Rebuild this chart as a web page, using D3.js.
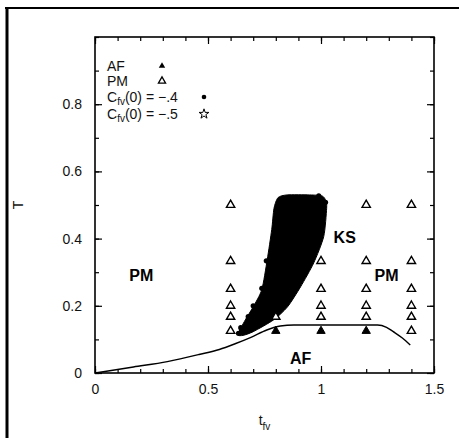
<!DOCTYPE html>
<html><head><meta charset="utf-8">
<script src="https://cdn.jsdelivr.net/npm/d3@7"></script>
<style>
html,body{margin:0;padding:0;background:#fff;}
svg{display:block;font-family:"Liberation Sans",Arial,Helvetica,sans-serif;}
</style></head>
<body>
<svg id="c" width="459" height="438"></svg>
<script>
// ---- data ----
const xTickMajor = [0, 0.5, 1, 1.5];
const xTickLabels = ["0", "0.5", "1", "1.5"];
const yTickMajor = [0, 0.2, 0.4, 0.6, 0.8];
const yTickLabels = ["0", "0.2", "0.4", "0.6", "0.8"];
const xTickMinor = d3.range(0, 1.501, 0.1);
const yTickMinor = d3.range(0, 1.001, 0.1);

// AF (filled triangles) [t_fv, T]
const afPoints = [[0.8, 0.125], [1.0, 0.125], [1.2, 0.125]];
// PM (open triangles)
const pmPoints = [
  [0.6, 0.5], [0.6, 0.333], [0.6, 0.25], [0.6, 0.2], [0.6, 0.167], [0.6, 0.125],
  [0.8, 0.167],
  [1.0, 0.333], [1.0, 0.25], [1.0, 0.2], [1.0, 0.167],
  [1.2, 0.5], [1.2, 0.333], [1.2, 0.25], [1.2, 0.2], [1.2, 0.167],
  [1.4, 0.5], [1.4, 0.333], [1.4, 0.25], [1.4, 0.2], [1.4, 0.167], [1.4, 0.125]
];
// dense region of C_fv(0) = -.4 points (outline of the filled cloud)
const ksCloud = [
  [0.632, 0.115], [0.665, 0.158], [0.700, 0.197], [0.738, 0.248], [0.762, 0.337],
  [0.782, 0.427], [0.792, 0.490], [0.810, 0.522], [0.850, 0.530], [0.950, 0.530],
  [1.005, 0.527], [1.022, 0.512], [1.025, 0.490], [1.012, 0.406], [0.968, 0.328],
  [0.910, 0.257], [0.852, 0.197], [0.790, 0.158], [0.700, 0.123], [0.655, 0.112]
];
// individual C_fv(0) = -.4 points around the cloud edge
const cfv4Points = [
  [0.758, 0.334], [0.738, 0.252], [0.700, 0.200], [0.678, 0.168], [0.645, 0.135],
  [0.635, 0.118], [1.020, 0.508], [0.990, 0.527]
];
// phase boundary line
const boundary = [
  [0, 0], [0.17, 0.018], [0.32, 0.034], [0.46, 0.055], [0.55, 0.070], [0.62, 0.087],
  [0.69, 0.106], [0.76, 0.128], [0.82, 0.140], [0.88, 0.143], [1.25, 0.143],
  [1.29, 0.136], [1.32, 0.123], [1.36, 0.104], [1.395, 0.083]
];
// region labels
const regionLabels = [
  {text: "PM", t: 0.205, T: 0.29},
  {text: "KS", t: 1.105, T: 0.405},
  {text: "PM", t: 1.29, T: 0.29},
  {text: "AF", t: 0.91, T: 0.045}
];
const legendItems = ["AF", "PM", "C_fv(0) = −.4", "C_fv(0) = −.5"];

// ---- layout ----
const svg = d3.select("#c");
const L = 95, R = 434, TOP = 37, B = 373;
const x = d3.scaleLinear().domain([0, 1.5]).range([L, R]);
const y = d3.scaleLinear().domain([0, 1]).range([B, TOP]);

// outer page frame (scan border)
svg.append("line").attr("x1", 5).attr("x2", 459).attr("y1", 8).attr("y2", 8)
  .attr("stroke", "#000").attr("stroke-width", 2);
svg.append("line").attr("x1", 7).attr("x2", 7).attr("y1", 7).attr("y2", 438)
  .attr("stroke", "#000").attr("stroke-width", 3);

// axes
function styleAxis(g){ g.select(".domain").remove(); g.selectAll("line").attr("stroke","#000").attr("stroke-width",1.2); }
svg.append("g").attr("transform", `translate(0,${B})`)
  .call(d3.axisBottom(x).tickValues(xTickMinor).tickSize(-4).tickFormat(""))
  .call(styleAxis);
svg.append("g").attr("transform", `translate(0,${B})`)
  .call(d3.axisBottom(x).tickValues(xTickMajor).tickSize(-7).tickPadding(11)
    .tickFormat((d,i) => xTickLabels[i]))
  .call(styleAxis)
  .selectAll("text").attr("font-size", 14).attr("fill", "#111");
svg.append("g").attr("transform", `translate(0,${TOP})`)
  .call(d3.axisTop(x).tickValues(xTickMinor).tickSize(-4).tickFormat("")).call(styleAxis);
svg.append("g").attr("transform", `translate(0,${TOP})`)
  .call(d3.axisTop(x).tickValues(xTickMajor).tickSize(-7).tickFormat("")).call(styleAxis);
svg.append("g").attr("transform", `translate(${L},0)`)
  .call(d3.axisLeft(y).tickValues(yTickMinor).tickSize(-4).tickFormat("")).call(styleAxis);
svg.append("g").attr("transform", `translate(${L},0)`)
  .call(d3.axisLeft(y).tickValues(yTickMajor).tickSize(-7).tickPadding(13)
    .tickFormat((d,i) => yTickLabels[i]))
  .call(styleAxis)
  .selectAll("text").attr("font-size", 14).attr("fill", "#111");
svg.append("g").attr("transform", `translate(${R},0)`)
  .call(d3.axisRight(y).tickValues(yTickMinor).tickSize(-4).tickFormat("")).call(styleAxis);
svg.append("g").attr("transform", `translate(${R},0)`)
  .call(d3.axisRight(y).tickValues(yTickMajor).tickSize(-7).tickFormat("")).call(styleAxis);

svg.append("rect").attr("x", L).attr("y", TOP).attr("width", R - L).attr("height", B - TOP)
  .attr("fill", "none").attr("stroke", "#000").attr("stroke-width", 1.6);

// axis titles
const xt = svg.append("text").attr("x", (L + R) / 2).attr("y", 425).attr("text-anchor", "middle")
  .attr("font-size", 14).attr("fill", "#111");
xt.append("tspan").text("t");
xt.append("tspan").attr("dy", 5).attr("font-size", 10).text("fv");
svg.append("text").attr("transform", `translate(23,${(TOP + B) / 2}) rotate(-90)`)
  .attr("text-anchor", "middle").attr("font-size", 14).attr("fill", "#111").text("T");

// boundary line
svg.append("path").datum(boundary)
  .attr("d", d3.line().x(d => x(d[0])).y(d => y(d[1])).curve(d3.curveMonotoneX))
  .attr("fill", "none").attr("stroke", "#000").attr("stroke-width", 1.4);

// dense cloud
svg.append("path").datum(ksCloud)
  .attr("d", d3.line().x(d => x(d[0])).y(d => y(d[1])).curve(d3.curveCardinalClosed.tension(0.3)))
  .attr("fill", "#000").attr("stroke", "#000").attr("stroke-width", 1);
svg.append("g").selectAll("circle").data(cfv4Points).join("circle")
  .attr("cx", d => x(d[0])).attr("cy", d => y(d[1])).attr("r", 2.6).attr("fill", "#000");

// triangles
const tri = d3.symbol().type(d3.symbolTriangle).size(30);
svg.append("g").selectAll("path").data(pmPoints).join("path")
  .attr("transform", d => `translate(${x(d[0])},${y(d[1])})`).attr("d", tri)
  .attr("fill", "#fff").attr("stroke", "#000").attr("stroke-width", 1.4);
svg.append("g").selectAll("path").data(afPoints).join("path")
  .attr("transform", d => `translate(${x(d[0])},${y(d[1])})`).attr("d", tri)
  .attr("fill", "#000").attr("stroke", "#000").attr("stroke-width", 1);

// region labels
svg.append("g").selectAll("text").data(regionLabels).join("text")
  .attr("x", d => x(d.t)).attr("y", d => y(d.T)).attr("dy", "0.36em")
  .attr("text-anchor", "middle").attr("font-size", 16).attr("font-weight", "bold")
  .attr("fill", "#000").text(d => d.text);

// legend
const lg = svg.append("g").attr("fill", "#111").attr("font-size", 14);
const lx = 107, rows = [71, 86, 102, 119];
legendItems.forEach((s, i) => {
  const t = lg.append("text").attr("x", lx).attr("y", rows[i]);
  if (s.startsWith("C_fv")) {
    t.append("tspan").text("C");
    t.append("tspan").attr("dy", 3).attr("font-size", 10).text("fv");
    t.append("tspan").attr("dy", -3).text(s.slice(4));
  } else t.text(s);
});
lg.append("path").attr("transform", `translate(162,${rows[0] - 5})`).attr("d", d3.symbol().type(d3.symbolTriangle).size(18))
  .attr("fill", "#000");
lg.append("path").attr("transform", `translate(162,${rows[1] - 5})`).attr("d", d3.symbol().type(d3.symbolTriangle).size(22))
  .attr("fill", "#fff").attr("stroke", "#000").attr("stroke-width", 1.3);
lg.append("circle").attr("cx", 204).attr("cy", rows[2] - 5).attr("r", 2.3).attr("fill", "#000");
lg.append("path").attr("transform", `translate(204,${rows[3] - 5})`).attr("d", d3.symbol().type(d3.symbolStar).size(30))
  .attr("fill", "#fff").attr("stroke", "#000").attr("stroke-width", 1);
</script>
</body></html>
